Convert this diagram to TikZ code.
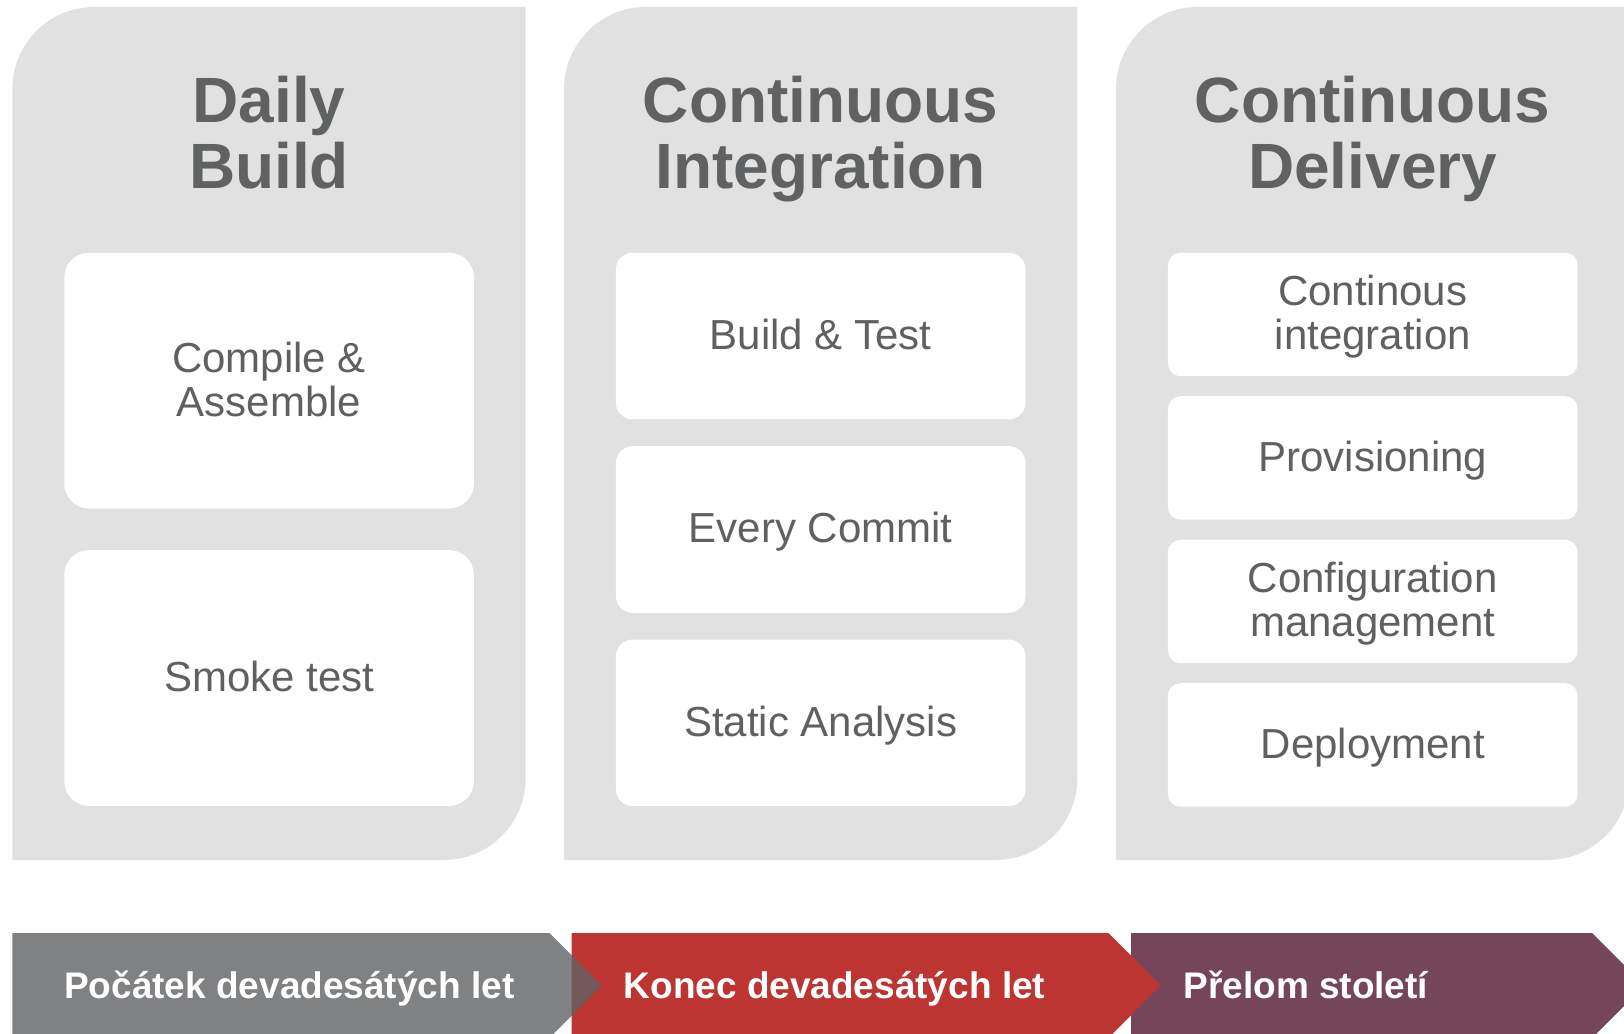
\documentclass[tikz,border=0pt]{standalone}
\usepackage{fontspec}
\setmainfont{Liberation Sans}
\definecolor{panelgray}{HTML}{E0E1E0}
\definecolor{titlegray}{HTML}{606163}
\definecolor{labelgray}{HTML}{5F6062}
\definecolor{bargray}{HTML}{606163}
\definecolor{barred}{HTML}{BD3532}
\definecolor{barpurple}{HTML}{75455A}
\begin{document}
\begin{tikzpicture}[x=1pt,y=-1pt,
  panelfill/.style={fill=panelgray},
  box/.style={rectangle, fill=white, inner sep=0pt, minimum width=409.7pt},
  bigbox/.style={box, minimum height=255.9pt, rounded corners=25pt},
  midbox/.style={box, minimum height=166.7pt, rounded corners=17pt},
  smallbox/.style={box, minimum height=123.5pt, rounded corners=12.5pt},
  title/.style={font=\bfseries\fontsize{64}{65.5}\selectfont, text=titlegray, anchor=base, inner sep=0pt},
  label/.style={font=\fontsize{42}{44}\selectfont, text=labelgray, anchor=base, inner sep=0pt},
  bartext/.style={font=\bfseries\fontsize{37}{40}\selectfont, text=white, anchor=base west, inner sep=0pt}]
\useasboundingbox (0,0) rectangle (1624,1033);
\clip (0,0) rectangle (1624,1033);

% panels
\fill[panelfill] (12.3,860) -- (12.3,89) arc[start angle=180,end angle=270,radius=82] -- (525.7,7) -- (525.7,778) arc[start angle=0,end angle=90,radius=82] -- cycle;
\fill[panelfill] (564,860) -- (564,89) arc[start angle=180,end angle=270,radius=82] -- (1077.4,7) -- (1077.4,778) arc[start angle=0,end angle=90,radius=82] -- cycle;
\fill[panelfill] (1116,860) -- (1116,89) arc[start angle=180,end angle=270,radius=82] -- (1629.4,7) -- (1629.4,778) arc[start angle=0,end angle=90,radius=82] -- cycle;

% titles
\node[title] (t1) at (269,122.5) {\begin{tabular}[t]{@{}c@{}}Daily\\Build\end{tabular}};
\node[title] (t2) at (820.7,122.5) {\begin{tabular}[t]{@{}c@{}}Continuous\\Integration\end{tabular}};
\node[title] (t3) at (1372.7,122.5) {\begin{tabular}[t]{@{}c@{}}Continuous\\Delivery\end{tabular}};

% panel 1 boxes
\node[bigbox] (b11) at (269.1,380.6) {};
\node[bigbox] (b12) at (269.1,678) {};
\node[label] (l11) at ([yshift=8.5pt]b11.center) {\begin{tabular}[t]{@{}c@{}}Compile \&\\Assemble\end{tabular}};
\node[label] (l12) at ([yshift=-13.5pt]b12.center) {Smoke test};

% panel 2 boxes
\node[midbox] (b21) at (820.7,336.05) {};
\node[midbox] (b22) at (820.7,529.45) {};
\node[midbox] (b23) at (820.7,722.85) {};
\node[label] (l21) at ([yshift=-13.5pt]b21.center) {Build \& Test};
\node[label] (l22) at ([yshift=-13.5pt]b22.center) {Every Commit};
\node[label] (l23) at ([yshift=-13.5pt]b23.center) {Static Analysis};

% panel 3 boxes
\node[smallbox] (b31) at (1372.8,314.45) {};
\node[smallbox] (b32) at (1372.8,457.95) {};
\node[smallbox] (b33) at (1372.8,601.45) {};
\node[smallbox] (b34) at (1372.8,744.95) {};
\node[label] (l31) at ([yshift=8.5pt]b31.center) {\begin{tabular}[t]{@{}c@{}}Continous\\integration\end{tabular}};
\node[label] (l32) at ([yshift=-13.5pt]b32.center) {Provisioning};
\node[label] (l33) at ([yshift=8.5pt]b33.center) {\begin{tabular}[t]{@{}c@{}}Configuration\\management\end{tabular}};
\node[label] (l34) at ([yshift=-13.5pt]b34.center) {Deployment};

% timeline bars
\fill[barpurple] (1131,933) -- (1592,933) -- (1644.5,985.5) -- (1592,1038) -- (1131,1038) -- cycle;
\fill[barred] (571.5,933) -- (1108.4,933) -- (1160.9,985.5) -- (1108.4,1038) -- (571.5,1038) -- cycle;
\fill[bargray, opacity=0.8] (12.3,933) -- (549.3,933) -- (601.8,985.5) -- (549.3,1038) -- (12.3,1038) -- cycle;
\node[bartext] (e1) at (64,998.5) {Počátek devadesátých let};
\node[bartext] (e2) at (623.5,998.5) {Konec devadesátých let};
\node[bartext] (e3) at (1183.3,998.5) {Přelom století};
\end{tikzpicture}
\end{document}
